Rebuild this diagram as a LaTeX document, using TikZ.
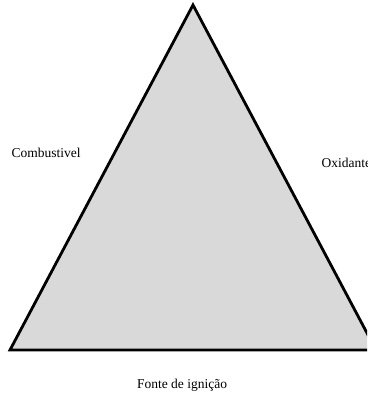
\documentclass[tikz,border=0pt]{standalone}
\usepackage{fontspec}
\setmainfont{Liberation Serif}
\begin{document}
\begin{tikzpicture}[x=1pt, y=-1pt, font=\fontsize{13.5}{16}\selectfont]
\clip (0,0) rectangle (367,398);
\useasboundingbox (0,0) rectangle (367,398);
\coordinate (apex) at (193,5);
\coordinate (baseleft) at (10,350);
\coordinate (baseright) at (376,350);
\filldraw[fill=gray!30, line width=2.8pt, line join=miter] (apex) -- (baseleft) -- (baseright) -- cycle;
\node[anchor=west] (fuel) at (8,153) {Combustivel};
\node[anchor=west] (oxidizer) at (318,163) {Oxidante};
\node (ignition) at (182,385) {Fonte de igni\c{c}\~{a}o};
\end{tikzpicture}
\end{document}
